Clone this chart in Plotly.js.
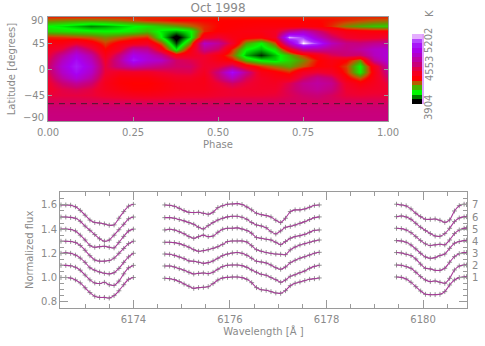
<!DOCTYPE html>
<html><head><meta charset="utf-8">
<script src="https://cdn.plot.ly/plotly-3.0.1.min.js"></script>
<style>html,body{margin:0;padding:0;background:#fff}</style></head>
<body><div id="chart" style="width:485px;height:346px"></div>
<script>
const phase=[0,0.042,0.083,0.125,0.167,0.208,0.25,0.292,0.333,0.375,0.417,0.458,0.5,0.542,0.583,0.625,0.667,0.708,0.75,0.792,0.833,0.875,0.917,0.958,1];
const lat=[90,85,75,65,55,45,35,25,15,5,-5,-15,-25,-35,-45,-55,-65,-75,-90];
const t90=[4340,4340,4340,4340,4340,4340,4340,4340,4340,4340,4340,4340,4340,4340,4340,4340,4340,4340,4340,4340,4340,4340,4340,4340,4340];
const t85=[4270,4260,4250,4250,4260,4280,4310,4340,4350,4370,4370,4370,4370,4370,4370,4370,4370,4370,4370,4370,4360,4340,4320,4300,4290];
const t75=[4130,4110,4080,4040,4060,4090,4120,4150,4190,4230,4280,4340,4370,4380,4390,4400,4400,4400,4400,4390,4340,4260,4220,4190,4180];
const t65=[4170,4160,4150,4140,4130,4130,4150,4190,4110,4070,4120,4340,4380,4400,4420,4430,4470,4680,4780,4640,4500,4420,4400,4390,4390];
const t55=[4340,4330,4310,4290,4250,4280,4320,4340,4130,3904,4100,4450,4520,4430,4400,4390,4480,5150,5050,4800,4620,4500,4470,4480,4500];
const t45=[4420,4420,4500,4420,4320,4400,4440,4470,4300,3990,4250,4800,4700,4500,4230,4130,4300,4800,5202,5050,4780,4660,4640,4680,4700];
const t35=[4470,4540,4720,4560,4370,4480,4720,4680,4430,4110,4400,4680,4600,4340,4130,4080,4160,4440,4700,4720,4680,4660,4720,4800,4830];
const t25=[4520,4700,4880,4720,4440,4640,4900,4820,4680,4420,4460,4520,4420,4290,4070,3980,4080,4200,4330,4430,4560,4620,4600,4780,4850];
const t15=[4560,4780,4950,4780,4500,4700,4980,4850,4800,4600,4560,4500,4430,4370,4200,4120,4100,4170,4250,4360,4430,4380,4250,4700,4850];
const t05=[4600,4840,5000,4840,4530,4660,4750,4700,4650,4600,4600,4500,4520,4620,4420,4330,4270,4220,4300,4380,4410,4320,4130,4450,4750];
const tm05=[4570,4800,4950,4800,4520,4470,4480,4480,4520,4550,4560,4470,4650,4950,4680,4430,4390,4340,4480,4520,4480,4340,4140,4420,4680];
const tm15=[4530,4720,4850,4720,4480,4400,4400,4400,4440,4480,4480,4440,4600,4780,4580,4480,4440,4440,4580,4680,4620,4400,4300,4440,4600];
const tm25=[4500,4620,4700,4620,4450,4390,4370,4370,4400,4440,4450,4440,4520,4600,4530,4480,4470,4560,4680,4720,4680,4480,4400,4460,4540];
const tm35=[4490,4550,4580,4540,4460,4420,4390,4390,4410,4440,4450,4450,4490,4520,4500,4490,4500,4580,4660,4700,4650,4510,4470,4490,4510];
const tm45=[4530,4540,4540,4530,4500,4480,4460,4450,4460,4480,4490,4490,4510,4520,4520,4520,4530,4570,4610,4630,4590,4530,4520,4530,4530];
const tm55=[4580,4580,4580,4575,4570,4565,4560,4560,4560,4565,4565,4570,4570,4575,4575,4580,4580,4590,4590,4595,4590,4580,4580,4580,4580];
const tm65=[4625,4625,4625,4625,4620,4620,4620,4620,4620,4620,4620,4620,4620,4625,4625,4625,4625,4625,4625,4625,4625,4625,4625,4625,4625];
const tm75=[4640,4640,4640,4640,4640,4640,4635,4635,4635,4635,4635,4635,4640,4640,4640,4640,4640,4640,4640,4640,4640,4640,4640,4640,4640];
const tm90=[4650,4650,4650,4650,4650,4650,4650,4650,4650,4650,4650,4650,4650,4650,4650,4650,4650,4650,4650,4650,4650,4650,4650,4650,4650];
const tempRows=[t90,t85,t75,t65,t55,t45,t35,t25,t15,t05,tm05,tm15,tm25,tm35,tm45,tm55,tm65,tm75,tm90];
const barLevels=[3947,4034,4120,4207,4293,4380,4466,4553,4639,4726,4812,4899,4985,5072,5158];
const barEdges=[3904,3990,4077,4164,4250,4337,4423,4510,4596,4683,4769,4856,4942,5029,5115,5202];
const cutoffLat=-60;

const wave1=[6172.5,6172.6,6172.7,6172.8,6172.9,6173.0,6173.1,6173.2,6173.3,6173.4,6173.5,6173.6,6173.7,6173.8,6173.9,6174.0];
const wave2=[6174.65,6174.75,6174.85,6174.95,6175.05,6175.15,6175.25,6175.35,6175.45,6175.55,6175.65,6175.75,6175.85,6175.95,6176.05,6176.15,6176.25,6176.35,6176.45,6176.55,6176.65,6176.75,6176.85,6176.95,6177.05,6177.15,6177.25,6177.35,6177.45,6177.55,6177.65,6177.75,6177.85];
const wave3=[6179.45,6179.55,6179.65,6179.75,6179.85,6179.95,6180.05,6180.15,6180.25,6180.35,6180.45,6180.55,6180.65,6180.75,6180.85,6180.9];

const s7a=[1.6,1.6,1.598,1.585,1.555,1.515,1.475,1.455,1.45,1.443,1.432,1.435,1.49,1.545,1.59,1.605];
const s6a=[1.5,1.5,1.497,1.49,1.465,1.425,1.39,1.355,1.32,1.3,1.31,1.35,1.395,1.44,1.485,1.5];
const s5a=[1.4,1.4,1.397,1.385,1.35,1.31,1.265,1.25,1.255,1.258,1.25,1.245,1.29,1.34,1.385,1.4];
const s4a=[1.3,1.3,1.298,1.29,1.265,1.225,1.18,1.145,1.135,1.135,1.14,1.16,1.2,1.24,1.28,1.3];
const s3a=[1.2,1.205,1.2,1.185,1.16,1.125,1.08,1.06,1.045,1.035,1.03,1.04,1.075,1.125,1.17,1.2];
const s2a=[1.1,1.1,1.097,1.085,1.06,1.02,0.98,0.955,0.95,0.96,0.94,0.935,0.97,1.03,1.08,1.1];
const s1a=[1.0,1.0,0.995,0.98,0.955,0.915,0.875,0.845,0.835,0.835,0.83,0.85,0.89,0.94,0.985,1.0];

const s7b=[1.6,1.597,1.589,1.572,1.553,1.539,1.537,1.539,1.531,1.523,1.539,1.578,1.594,1.606,1.608,1.611,1.603,1.583,1.559,1.531,1.52,1.512,1.501,1.473,1.454,1.49,1.545,1.559,1.559,1.567,1.581,1.597,1.6];
const s6b=[1.495,1.495,1.49,1.479,1.468,1.454,1.44,1.415,1.401,1.429,1.454,1.476,1.49,1.501,1.506,1.506,1.498,1.481,1.454,1.434,1.426,1.412,1.379,1.36,1.385,1.415,1.423,1.434,1.448,1.462,1.479,1.495,1.501];
const s5b=[1.393,1.399,1.393,1.379,1.362,1.338,1.324,1.338,1.35,1.338,1.343,1.374,1.399,1.407,1.407,1.41,1.401,1.388,1.366,1.33,1.324,1.316,1.31,1.291,1.272,1.297,1.324,1.338,1.346,1.357,1.374,1.39,1.393];
const s4b=[1.291,1.291,1.288,1.28,1.266,1.25,1.23,1.217,1.222,1.23,1.241,1.255,1.274,1.297,1.302,1.302,1.302,1.294,1.263,1.23,1.217,1.206,1.2,1.194,1.192,1.189,1.228,1.252,1.269,1.28,1.291,1.302,1.31];
const s3b=[1.194,1.192,1.183,1.17,1.156,1.137,1.134,1.126,1.117,1.123,1.137,1.159,1.181,1.194,1.203,1.206,1.2,1.183,1.159,1.134,1.128,1.12,1.103,1.081,1.068,1.087,1.123,1.142,1.159,1.172,1.186,1.2,1.208];
const s2b=[1.095,1.095,1.087,1.073,1.059,1.043,1.029,1.034,1.037,1.032,1.043,1.068,1.09,1.101,1.103,1.103,1.098,1.084,1.062,1.043,1.026,1.018,0.999,0.982,0.96,0.979,1.01,1.023,1.04,1.054,1.076,1.092,1.101];
const s1b=[0.993,0.99,0.982,0.966,0.946,0.927,0.91,0.916,0.919,0.924,0.949,0.979,0.996,1.001,1.004,1.004,0.999,0.985,0.957,0.916,0.899,0.894,0.883,0.872,0.869,0.891,0.932,0.952,0.963,0.974,0.985,0.99,0.996];

const s7c=[1.606,1.6,1.592,1.567,1.531,1.503,1.481,1.481,1.484,1.473,1.456,1.476,1.55,1.594,1.606,1.603];
const s6c=[1.503,1.509,1.501,1.481,1.448,1.415,1.388,1.363,1.343,1.341,1.363,1.407,1.462,1.492,1.501,1.503];
const s5c=[1.407,1.404,1.393,1.371,1.338,1.305,1.278,1.264,1.27,1.275,1.27,1.31,1.363,1.393,1.407,1.41];
const s4c=[1.305,1.302,1.291,1.269,1.236,1.2,1.17,1.159,1.164,1.181,1.194,1.241,1.283,1.297,1.305,1.308];
const s3c=[1.206,1.203,1.192,1.181,1.153,1.11,1.076,1.071,1.059,1.059,1.076,1.126,1.172,1.197,1.206,1.206];
const s2c=[1.103,1.101,1.09,1.076,1.043,1.007,0.979,0.966,0.971,0.96,0.952,0.993,1.062,1.095,1.103,1.103];
const s1c=[1.004,1.001,0.988,0.96,0.924,0.888,0.861,0.858,0.858,0.861,0.883,0.938,0.979,0.999,1.004,1.007];

const spectra=[[s1a,s1b,s1c],[s2a,s2b,s2c],[s3a,s3b,s3c],[s4a,s4b,s4c],[s5a,s5b,s5c],[s6a,s6b,s6c],[s7a,s7b,s7c]];
const phaseNumbers=['1','2','3','4','5','6','7'];
const phaseLevels=[1.0,1.1,1.2,1.3,1.4,1.5,1.6];

const W=485,H=346;
const TXT='#8a8a8a',AX='#9a9a9a',FONT='"DejaVu Sans", sans-serif';
const cs=[[0,'#000000'],[0.035,'#000000'],[0.09,'#006a00'],[0.17,'#00ff00'],[0.25,'#58a000'],[0.31,'#c85000'],[0.36,'#ff0000'],[0.47,'#f00030'],[0.55,'#cc0070'],[0.68,'#b400c0'],[0.78,'#a800f0'],[0.88,'#a828ff'],[0.96,'#e0a0ff'],[1,'#ffffff']];
const waveAll=wave1.concat([null],wave2,[null],wave3);
const traces=[];
traces.push({type:'heatmap',x:phase,y:lat,z:tempRows,zsmooth:'best',colorscale:cs,zmin:3904,zmax:5202,showscale:false,xaxis:'x',yaxis:'y',hoverinfo:'skip'});
traces.push({type:'scatter',mode:'lines',x:[0,1],y:[cutoffLat,cutoffLat],line:{color:'#222',width:0.8,dash:'6px,5px'},xaxis:'x',yaxis:'y',showlegend:false,hoverinfo:'skip'});
traces.push({type:'heatmap',y:barEdges,x:[0,1],z:barLevels.map(v=>[v]),zsmooth:false,colorscale:cs,zmin:3904,zmax:5202,showscale:false,xaxis:'x3',yaxis:'y3',hoverinfo:'skip'});
spectra.forEach(s=>{
  const f=s[0].concat([null],s[1],[null],s[2]);
  traces.push({type:'scatter',mode:'markers',x:waveAll,y:f,marker:{symbol:'cross-thin',size:3.5,line:{color:'#777',width:0.8}},xaxis:'x2',yaxis:'y2',showlegend:false,hoverinfo:'skip'});
  traces.push({type:'scatter',mode:'lines',x:waveAll,y:f,line:{color:'#a63a98',width:1.1,shape:'spline',smoothing:0.6},xaxis:'x2',yaxis:'y2',showlegend:false,hoverinfo:'skip',connectgaps:false});
});
const tf={family:FONT,size:10,color:TXT};
const ann=[
 {xref:'paper',yref:'y',x:46/W,y:90,yshift:-3,xanchor:'right',yanchor:'middle',text:'90',showarrow:false,font:tf},
 {xref:'paper',yref:'y',x:46/W,y:-90,yshift:4,xanchor:'right',yanchor:'middle',text:'\u221290',showarrow:false,font:tf},
 {xref:'paper',yref:'paper',x:429/W,y:1-108/H,textangle:-90,text:'3904',showarrow:false,font:tf,xanchor:'center',yanchor:'middle'},
 {xref:'paper',yref:'paper',x:429/W,y:1-69/H,textangle:-90,text:'4553',showarrow:false,font:tf,xanchor:'center',yanchor:'middle'},
 {xref:'paper',yref:'paper',x:429/W,y:1-41/H,textangle:-90,text:'5202',showarrow:false,font:tf,xanchor:'center',yanchor:'middle'},
 {xref:'paper',yref:'paper',x:429/W,y:1-14/H,textangle:-90,text:'K',showarrow:false,font:tf,xanchor:'center',yanchor:'middle'}
];
phaseNumbers.forEach((n,i)=>ann.push({xref:'paper',yref:'y2',x:470/W,y:phaseLevels[i],xanchor:'left',yanchor:'middle',text:n,showarrow:false,font:tf}));
const axc={showline:true,linecolor:AX,linewidth:1,mirror:'ticks',ticks:'inside',tickcolor:AX,tickwidth:1,showgrid:false,zeroline:false,tickfont:tf};
const layout={
 width:W,height:H,autosize:false,margin:{l:0,r:0,t:0,b:0},paper_bgcolor:'#fff',plot_bgcolor:'#fff',showlegend:false,
 font:{family:FONT,color:TXT,size:10},
 title:{text:'Oct 1998',x:218/W,xanchor:'center',xref:'paper',y:1-8/H,yanchor:'middle',yref:'paper',font:{family:FONT,size:12,color:TXT}},
 xaxis:Object.assign({},axc,{domain:[48/W,388/W],range:[0,1],tickvals:[0,0.25,0.5,0.75,1],ticktext:['0.00','0.25','0.50','0.75','1.00'],ticklen:4,ticklabelstandoff:2,title:{text:'Phase',standoff:3,font:{family:FONT,size:10,color:TXT}},anchor:'y'}),
 yaxis:Object.assign({},axc,{domain:[1-121/H,1-17/H],range:[-90,90],tickvals:[45,0,-45],ticktext:['45','0','\u221245'],ticklen:4,title:{text:'Latitude [degrees]',standoff:6,font:{family:FONT,size:10,color:TXT}},anchor:'x'}),
 xaxis2:Object.assign({},axc,{domain:[60/W,467/W],range:[6172.48,6180.91],tickvals:[6174,6176,6178,6180],ticklen:8,ticklabelstandoff:2,tickformat:'d',minor:{dtick:0.5,ticks:'inside',ticklen:4,tickcolor:AX},title:{text:'Wavelength [\u00c5 ]',standoff:2,font:{family:FONT,size:10,color:TXT}},anchor:'y2'}),
 yaxis2:Object.assign({},axc,{domain:[1-307.7/H,1-192/H],range:[0.75,1.707],tickvals:[0.8,1.0,1.2,1.4,1.6],tickformat:'.1f',ticklen:8,minor:{dtick:0.05,ticks:'inside',ticklen:4,tickcolor:AX},title:{text:'Normalized flux',standoff:5,font:{family:FONT,size:10,color:TXT}},anchor:'x2'}),
 xaxis3:{domain:[412/W,422/W],range:[0,1],showticklabels:false,ticks:'',showline:false,showgrid:false,zeroline:false,anchor:'y3'},
 yaxis3:{domain:[1-104/H,1-34/H],range:[3904,5202],showticklabels:false,ticks:'',side:'right',showline:true,linecolor:'#e0a0ff',linewidth:2,showgrid:false,zeroline:false,anchor:'x3'},
 annotations:ann
};
Plotly.newPlot('chart',traces,layout,{displayModeBar:false,staticPlot:true});
</script></body></html>
